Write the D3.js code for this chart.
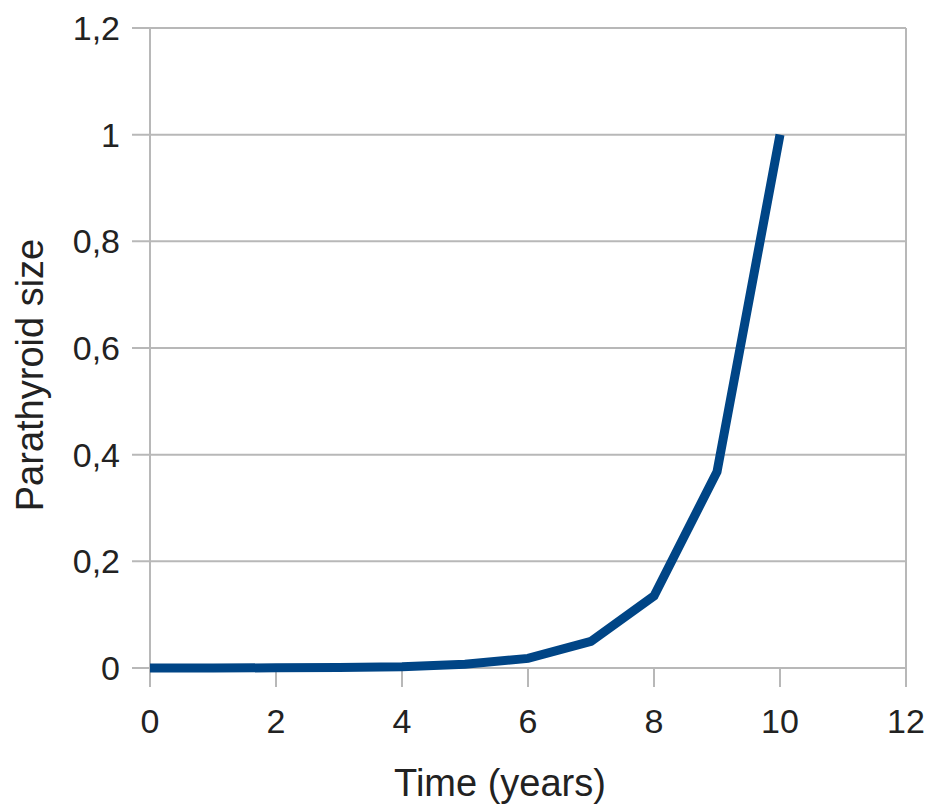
<!DOCTYPE html>
<html><head><meta charset="utf-8">
<script src="https://cdn.jsdelivr.net/npm/d3@7"></script>
<style>body{margin:0;background:#fff}svg text{font-family:"Liberation Sans",Arial,sans-serif;fill:#222}</style>
</head><body><svg id="c" width="934" height="812"></svg>
<script>
const years = [0,1,2,3,4,5,6,7,8,9,10];
const sizes = [0,0.0001,0.0003,0.001,0.0025,0.007,0.018,0.05,0.135,0.368,1];
const xTicks = [0,2,4,6,8,10,12];
const yTicks = [0,0.2,0.4,0.6,0.8,1,1.2];
const xTitle = "Time (years)";
const yTitle = "Parathyroid size";

const svg = d3.select("#c");
const L=150,R=906,T=28,B=668;
const x = d3.scaleLinear().domain([0,12]).range([L,R]);
const y = d3.scaleLinear().domain([0,1.2]).range([B,T]);
const fmt = d => String(+d.toFixed(1)).replace(".", ",");
const grid="#b8b8b8";

svg.append("g").selectAll("line").data(yTicks).join("line")
  .attr("x1",L-18).attr("x2",R).attr("y1",d=>y(d)).attr("y2",d=>y(d))
  .attr("stroke",grid).attr("stroke-width",2);
svg.append("line").attr("x1",R).attr("x2",R).attr("y1",T).attr("y2",B+19).attr("stroke",grid).attr("stroke-width",2);
svg.append("g").selectAll("line").data(xTicks).join("line")
  .attr("x1",d=>x(d)).attr("x2",d=>x(d)).attr("y1",B).attr("y2",B+19)
  .attr("stroke",grid).attr("stroke-width",2);
svg.append("line").attr("x1",L).attr("x2",L).attr("y1",T).attr("y2",B+19).attr("stroke",grid).attr("stroke-width",2);

svg.append("g").selectAll("text").data(yTicks).join("text")
  .attr("x",L-30).attr("y",d=>y(d)+12).attr("text-anchor","end")
  .attr("font-size",34).text(fmt);
svg.append("g").selectAll("text").data(xTicks).join("text")
  .attr("x",d=>x(d)).attr("y",B+65).attr("text-anchor","middle")
  .attr("font-size",34).text(d=>d);

svg.append("text").attr("x",500).attr("y",796).attr("text-anchor","middle").attr("font-size",38).text(xTitle);
svg.append("text").attr("transform",`translate(43,375) rotate(-90)`).attr("text-anchor","middle").attr("font-size",38).text(yTitle);

const line = d3.line().x((d,i)=>x(years[i])).y(d=>y(d));
svg.append("path").datum(sizes).attr("d",line).attr("fill","none")
  .attr("stroke","#004586").attr("stroke-width",9).attr("stroke-linejoin","miter");
</script></body></html>
